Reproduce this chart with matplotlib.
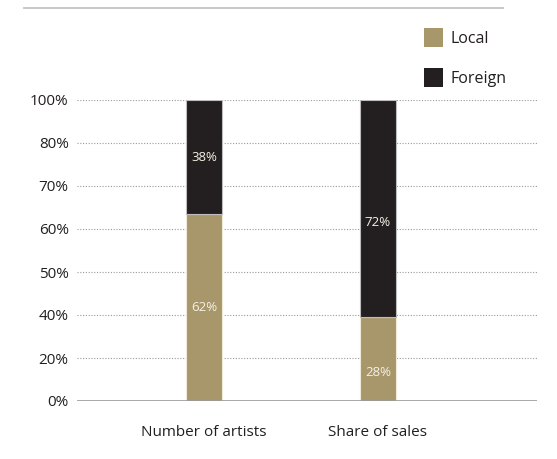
import numpy as np
import matplotlib.pyplot as plt
from matplotlib.patches import Patch
from matplotlib.lines import Line2D

plt.rcParams['font.family'] = ['Open Sans', 'DejaVu Sans']

categories = ['Number of artists', 'Share of sales']
local = [62, 28]
foreign = [38, 72]
tick_labels = ['0%', '20%', '40%', '50%', '60%', '70%', '80%', '100%']

gold = '#a8976a'
dark = '#231f20'
txt = '#231f20'

fig = plt.figure(figsize=(5.57, 4.59), dpi=100)
ax = fig.add_axes([77/557, 58/459, 460/557, 301/459])

x = np.arange(len(categories))
w = 0.21
ax.bar(x, local, w, color=gold, edgecolor='#f0ead8', linewidth=0.8, zorder=3, label='Local')
ax.bar(x, foreign, w, bottom=local, color=dark, edgecolor='#bdbdbd', linewidth=0.8, zorder=3, label='Foreign')

# value labels (second column sits a bit lower in the original)
offs = [0, -14]
for i in range(len(categories)):
    ax.annotate(f'{local[i]}%', (x[i], local[i] / 2), xytext=(0, offs[i]), textcoords='offset pixels',
                ha='center', va='center', color='#f4f0e6', fontsize=9.5, zorder=4)
    ax.annotate(f'{foreign[i]}%', (x[i], local[i] + foreign[i] / 2), xytext=(0, offs[i]), textcoords='offset pixels',
                ha='center', va='center', color='#f4f0e6', fontsize=9.5, zorder=4)

ticks = np.linspace(0, 100, len(tick_labels))
ax.set_yticks(ticks)
ax.set_yticklabels(tick_labels)
ax.set_ylim(0, 100)
ax.set_xlim(-0.73, 1.914)
ax.set_xticks(x)
ax.set_xticklabels(categories)

for t in ticks[1:]:
    ax.axhline(t, color='#9a9a9a', linestyle=(0, (1, 1.5)), linewidth=0.8, zorder=1)
ax.axhline(0, color='#9a9a9a', linewidth=1.2, zorder=4)

for s in ax.spines.values():
    s.set_visible(False)
ax.tick_params(length=0, labelsize=11, colors=txt)
ax.tick_params(axis='y', pad=6)
ax.tick_params(axis='x', pad=17)

# top rule
fig.add_artist(Line2D([24/557, 503/557], [1 - 8/459, 1 - 8/459], color='#c4c4c4', linewidth=1.3))

handles = [Patch(facecolor=gold, edgecolor='none'), Patch(facecolor=dark, edgecolor='none')]
fig.legend(handles, ['Local', 'Foreign'], loc='upper right', bbox_to_anchor=(506/557, 1 - 28/459),
           frameon=False, fontsize=11.5, handlelength=1.15, handleheight=1.45, handletextpad=0.45,
           labelspacing=1.3, labelcolor=txt, borderaxespad=0, borderpad=0)

fig.savefig('out.png', dpi=100)
